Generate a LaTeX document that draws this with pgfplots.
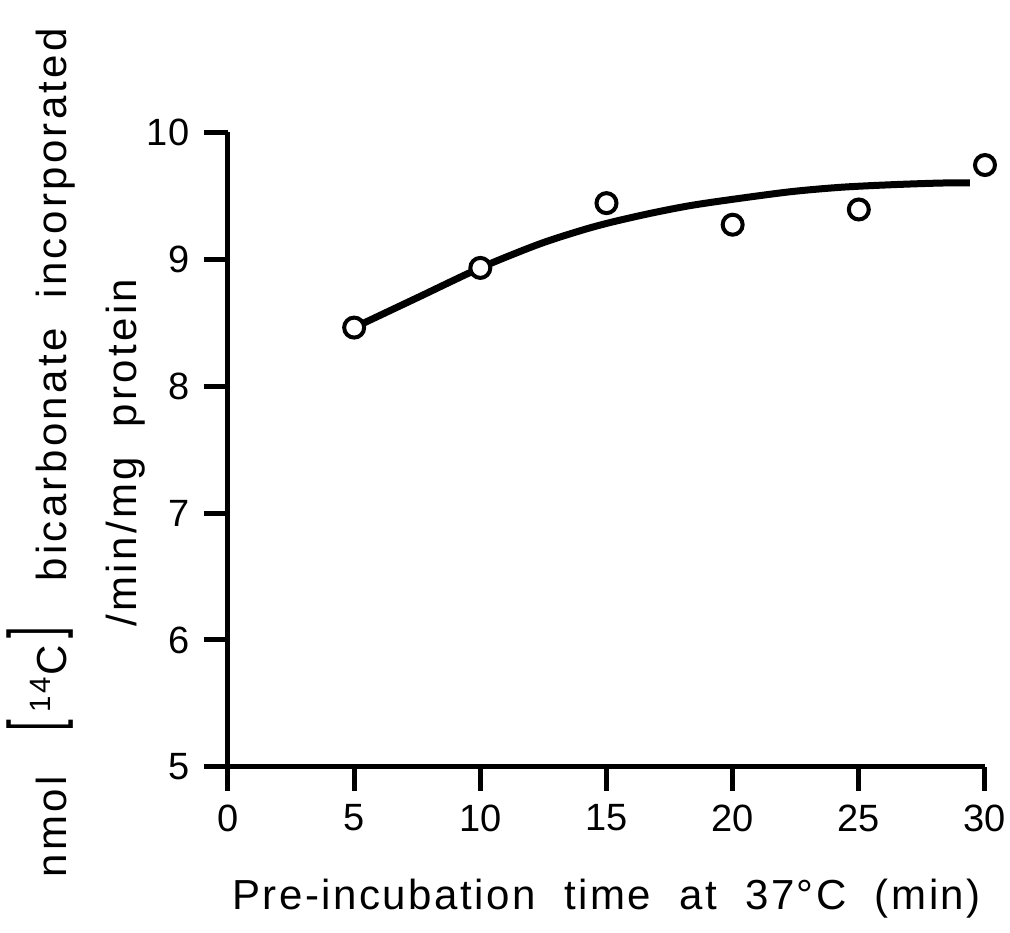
\documentclass[border=0pt]{standalone}
\usepackage{pgfplots}
\pgfplotsset{compat=1.18}
\usepackage{fontspec}
\setmainfont{Liberation Sans}
\newfontfamily\lblfont[LetterSpace=6]{Liberation Sans}
\newfontfamily\ylblfont[LetterSpace=8]{Liberation Sans}
\newcommand{\brk}[1]{\raisebox{2pt}{\scalebox{1}[1.7]{#1}}}
\begin{document}
\begin{tikzpicture}
\begin{axis}[
  name=ax,
  scale only axis,
  width=189.25pt, height=158.75pt,
  xmin=0, xmax=30, ymin=5, ymax=10,
  axis x line*=bottom, axis y line*=left,
  axis line style={line width=1.25pt, -},
  every outer x axis line/.append style={-},
  every outer y axis line/.append style={-},
  every inner x axis line/.append style={-},
  every inner y axis line/.append style={-},
  xtick={0,5,10,15,20,25,30}, ytick={5,6,7,8,9,10},
  tick align=outside,
  major tick length=6pt,
  tick style={line width=1.25pt, black},
  /pgf/number format/assume math mode=true,
  ticklabel style={font=\fontsize{9.5}{11}\selectfont, inner sep=0pt},
  xticklabel style={yshift=-3.25pt},
  yticklabel style={xshift=-3.5pt},
  clip=false,
  xlabel={Pre-incubation\ \ time\ \ at\ \ 37°C\ \ (min)},
  xlabel style={at={(axis description cs:0.5,-0.2252)}, anchor=base, inner sep=0pt, font=\lblfont\fontsize{10.5}{12}\selectfont},
  ylabel={nmol\ \ \ \brk{[}\,\textsuperscript{14}C\,\brk{]}\ \ \ bicarbonate\ \ incorporated\\/min/mg\ \ protein},
  ylabel style={at={(axis description cs:-0.1083,0.495)}, anchor=south, align=center, inner sep=0pt, font=\ylblfont\fontsize{10.5}{17.5}\selectfont},
]
\addplot[smooth, line width=1.75pt, black] coordinates {
  (5,8.46) (7.5,8.695) (10,8.93) (12.3,9.115) (14,9.225) (15.2,9.29)
  (16.75,9.36) (18.3,9.42) (20,9.47) (22.3,9.53) (24.3,9.565)
  (26.3,9.585) (28.2,9.598) (29.4,9.60)
};
\addplot[only marks, mark=*, mark size=2.5pt, mark options={fill=white, draw=black, line width=1pt}] coordinates {
  (5,8.46) (10,8.93) (15,9.44) (20,9.27) (25,9.39) (30,9.74)
};
\end{axis}
\pgfresetboundingbox
\path[use as bounding box] ([shift={(-57pt,-41.5pt)}]ax.south west) rectangle ([shift={(195.5pt,191.75pt)}]ax.south west);
\end{tikzpicture}
\end{document}
